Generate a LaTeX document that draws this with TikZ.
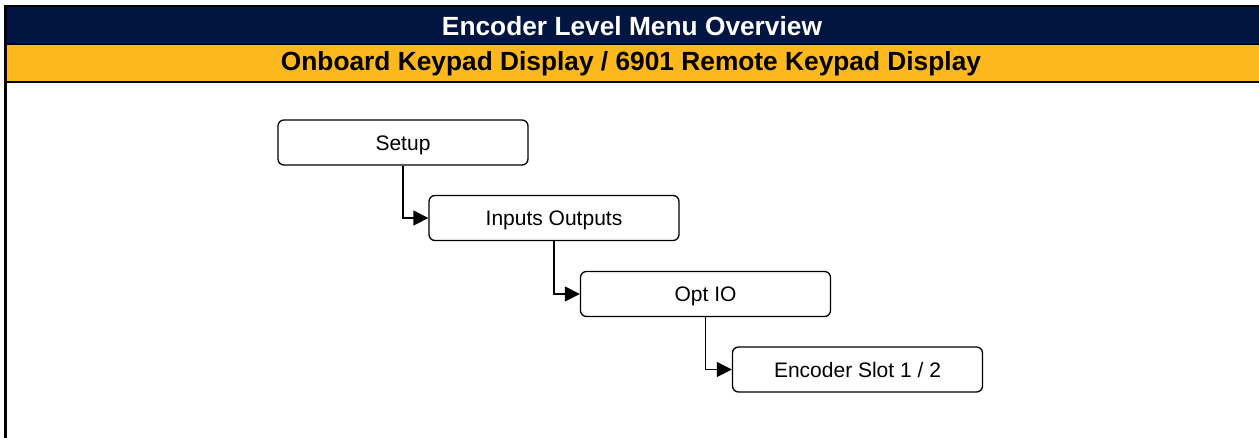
\documentclass[tikz,border=0pt]{standalone}
\usepackage{fontspec}
\setmainfont{Liberation Sans}
\usetikzlibrary{positioning}
\usetikzlibrary{arrows.meta}
\definecolor{headerColor}{HTML}{001641}
\definecolor{bandColor}{HTML}{FDB81E}

\begin{document}
\begin{tikzpicture}[x=1pt, y=-1pt,
		menu/.style={draw=black, line width=1.3pt, rounded corners=6pt, fill=white, minimum width=250pt, minimum height=45pt, text height=15pt, text depth=0pt, font=\fontsize{21}{25}\selectfont},
		flow/.style={draw=black, line width=1.3pt, -{Triangle[length=15pt, width=15pt]}},
		bandtext/.style={font=\fontsize{26.3}{30}\selectfont\bfseries}
		]
		\useasboundingbox (0,0) rectangle (1259,437);

		% Header bands
		\fill[headerColor] (5,6) rectangle (1262,44);
		\fill[bandColor] (5,44) rectangle (1262,82);
		\draw[line width=2.5pt] (4,6) -- (1262,6);
		\draw[line width=2.5pt] (4,44) -- (1262,44);
		\draw[line width=2.5pt] (4,82) -- (1262,82);
		\draw[line width=2.5pt] (5.3,5) -- (5.3,440);
		\node[bandtext, text=white] (title) at (632,26) {Encoder Level Menu Overview};
		\node[bandtext, text=black] (subtitle) at (631,64) {Onboard Keypad Display / 6901 Remote Keypad Display};

		% Menu levels
		\node[menu] (setup) at (403,142.5) {Setup};
		\node[menu] (inout) at (554,218) {Inputs Outputs};
		\node[menu] (optio) at (705.5,294) {Opt IO};
		\node[menu] (encoder) at (857.5,369.5) {Encoder Slot 1 / 2};

		% Connectors
		\draw[flow] (setup.south) |- (inout.west);
		\draw[flow] (inout.south) |- (optio.west);
		\draw[flow] (optio.south) |- (encoder.west);
	\end{tikzpicture}
\end{document}
